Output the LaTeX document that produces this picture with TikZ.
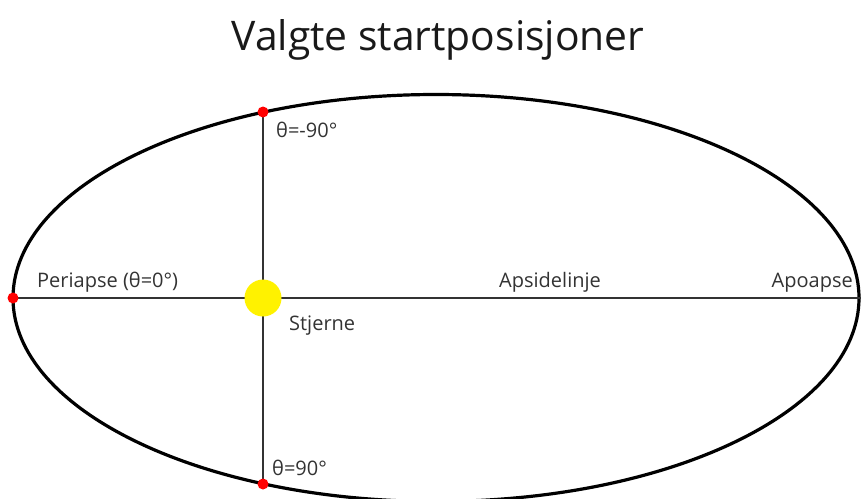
\documentclass[tikz,border=0pt]{standalone}
\usepackage{fontspec}
\setmainfont{Open Sans}
\begin{document}
\begin{tikzpicture}[x=1pt,y=-1pt,
  orbit/.style={line width=3.2pt,black},
  axisline/.style={line width=2pt,color=black!80},
  reddot/.style={circle,fill=red,inner sep=0pt,minimum size=11pt},
  star/.style={circle,fill=yellow,inner sep=0pt,minimum size=37pt},
  lbl/.style={font=\fontsize{20}{23}\selectfont,text=black!80,inner sep=0pt},
  titlestyle/.style={font=\fontsize{40.8}{46}\selectfont,text=black!90,inner sep=0pt}]
\useasboundingbox (0,0) rectangle (861,498);
\clip (0,0) rectangle (861,498);
\node[titlestyle,anchor=base] (title) at (438,50) {Valgte startposisjoner};
\draw[orbit] (436,298) ellipse [x radius=423, y radius=203.5];
\coordinate (P) at (13,298);
\coordinate (A) at (861,298);
\coordinate (S) at (263,298);
\coordinate (T) at (263,112);
\coordinate (B) at (263,484);
\draw[axisline] (P) -- (A);
\draw[axisline] (T) -- (B);
\node[star] (sun) at (S) {};
\node[reddot] (peri) at (P) {};
\node[reddot] (top) at (T) {};
\node[reddot] (bot) at (B) {};
\node[lbl,anchor=base west] (lperi) at (37,287) {Periapse (θ=0°)};
\node[lbl,anchor=base west] (lapsis) at (499,287) {Apsidelinje};
\node[lbl,anchor=base east] (lapo) at (853,287) {Apoapse};
\node[lbl,anchor=base west] (lsun) at (289,330) {Stjerne};
\node[lbl,anchor=base west] (ltop) at (276,137) {θ=-90°};
\node[lbl,anchor=base west] (lbot) at (272,475) {θ=90°};
\end{tikzpicture}
\end{document}
